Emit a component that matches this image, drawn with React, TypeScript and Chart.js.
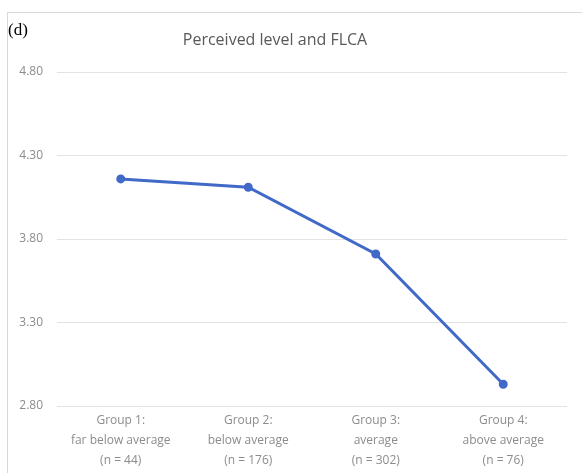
import React, { useEffect, useRef } from "react";
import { Chart, registerables } from "chart.js";

Chart.register(...registerables);

const categories: string[][] = [
  ["Group 1:", "far below average", "(n = 44)"],
  ["Group 2:", "below average", "(n = 176)"],
  ["Group 3:", "average", "(n = 302)"],
  ["Group 4:", "above average", "(n = 76)"],
];
const values: number[] = [4.16, 4.11, 3.71, 2.93];
const yTicks: number[] = [2.8, 3.3, 3.8, 4.3, 4.8];
const titleText = "Perceived level and FLCA";
const panelLabel = "(d)";

const overlay = {
  id: "overlay",
  afterDraw(chart: any) {
    const ctx = chart.ctx;
    ctx.save();
    ctx.fillStyle = "#000";
    ctx.font = "17px 'Liberation Serif', serif";
    ctx.textBaseline = "alphabetic";
    ctx.textAlign = "left";
    ctx.fillText(panelLabel, 8, 35);
    ctx.fillStyle = "#595959";
    ctx.font = "16px 'Open Sans', sans-serif";
    ctx.textAlign = "center";
    ctx.textBaseline = "middle";
    ctx.fillText(titleText, 275, 40);
    ctx.restore();
  },
};

export default function App() {
  const ref = useRef<HTMLCanvasElement | null>(null);
  useEffect(() => {
    if (!ref.current) return;
    const chart = new Chart(ref.current, {
      type: "line",
      data: {
        labels: categories,
        datasets: [
          {
            data: values,
            borderColor: "#4169C8",
            backgroundColor: "#4169C8",
            borderWidth: 3,
            pointRadius: 3,
            pointHoverRadius: 3,
            tension: 0,
          },
        ],
      },
      options: {
        animation: false,
        responsive: false,
        maintainAspectRatio: false,
        layout: { padding: { top: 72, left: 0, right: 15, bottom: 0 } },
        plugins: { legend: { display: false }, title: { display: false }, tooltip: { enabled: false } },
        scales: {
          x: {
            offset: true,
            grid: { display: false, drawTicks: false, offset: true },
            border: { display: false },
            ticks: {
              color: "#8c8c8c",
              font: { family: "'Open Sans', sans-serif", size: 12, lineHeight: "20px" as any },
              padding: 5,
              maxRotation: 0,
              autoSkip: false,
            },
            afterFit(scale: any) {
              scale.height = 67;
            },
          },
          y: {
            min: 2.8,
            max: 4.8,
            afterBuildTicks(scale: any) {
              scale.ticks = yTicks.map((v) => ({ value: v }));
            },
            grid: { color: "#e3e3e3", lineWidth: 1, drawTicks: false },
            border: { display: false },
            ticks: {
              color: "#8c8c8c",
              font: { family: "'Open Sans', sans-serif", size: 12 },
              padding: 14,
              callback: (v: any) => Number(v).toFixed(2),
            },
            afterFit(scale: any) {
              scale.width = 57;
            },
          },
        },
      },
      plugins: [overlay],
    });
    return () => chart.destroy();
  }, []);
  return (
    <div style={{ position: "fixed", left: 0, top: 0, width: 582, height: 473, background: "#fff" }}>
      <canvas ref={ref} width={582} height={473} style={{ position: "absolute", left: 0, top: 0 }} />
      <div
        style={{
          position: "absolute",
          left: 7,
          top: 12,
          width: 600,
          height: 500,
          borderTop: "1px solid #d9d9d9",
          borderLeft: "1px solid #d9d9d9",
          pointerEvents: "none",
        }}
      />
    </div>
  );
}
